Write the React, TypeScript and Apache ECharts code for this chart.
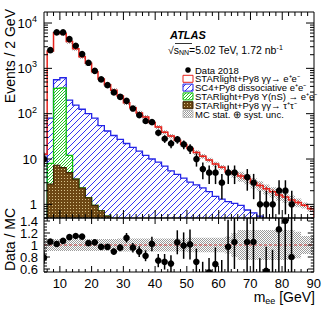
import React, { useEffect, useRef } from "react";
import * as echarts from "echarts";

// ---------------- data ----------------
const binCenters = [5, 7, 9, 11, 13, 15, 17, 19, 21, 23, 25, 27, 29, 31, 33, 35, 37, 39, 41, 43, 45, 47, 49, 51, 53, 55, 57, 59, 61, 63, 65, 67, 69, 71, 73, 75, 77, 79, 81, 83, 85, 87, 89];
const dataCounts = [10, 2520, 6230, 6230, 4430, 3150, 2065, 1327, 883, 570, 426, 295, 234, 192, 130, 93, 69, 65, 38, 28, 22, 27, 21, 17, 10, 6, 5, 5, 3, 5, 5, 0, 4, 3, 1, 1, 1, 2, 2, 1, 0, 0, 0];
const dataErr = [3.2, 50, 79, 79, 67, 56, 45, 36, 30, 24, 21, 17, 15, 14, 11, 9.6, 8.3, 8.1, 6.2, 5.3, 4.7, 5.2, 4.6, 4.1, 3.2, 2.4, 2.2, 2.2, 1.7, 2.2, 2.2, 0, 2, 1.7, 1, 1, 1, 1.4, 1.4, 1, 0, 0, 0];
// MC components (stacked bottom -> top)
const tauTau = [0, 2.8, 7.3, 6.5, 5.0, 3.6, 2.3, 1.4, 0.95, 0.72, 0.55, 0, 0, 0, 0, 0, 0, 0, 0, 0, 0, 0, 0, 0, 0, 0, 0, 0, 0, 0, 0, 0, 0, 0, 0, 0, 0, 0, 0, 0, 0, 0, 0];
const upsilon = [0, 5.2, 353, 364, 7, 0, 0, 0, 0, 0, 0, 0, 0, 0, 0, 0, 0, 0, 0, 0, 0, 0, 0, 0, 0, 0, 0, 0, 0, 0, 0, 0, 0, 0, 0, 0, 0, 0, 0, 0, 0, 0, 0];
const dissociative = [0, 72, 200, 250, 188, 151, 123, 99, 79, 54, 41, 33, 27, 22, 18, 15, 12, 10, 8.5, 7, 5.5, 4.6, 3.8, 3.1, 2.7, 2.3, 1.9, 1.5, 1.3, 1.15, 1.05, 0.95, 0.75, 0.65, 0.55, 0, 0, 0, 0, 0, 0, 0, 0];
const starlightEE = [12.7, 2320, 5540, 5180, 3700, 2545, 1675, 1190, 765, 525, 393, 297, 218, 153, 118, 89, 72, 54, 42.5, 32, 26.5, 21.4, 17.2, 13.9, 11.3, 9.2, 7.6, 6.3, 5.3, 4.05, 3.75, 3.25, 2.95, 2.35, 2.05, 2.2, 1.9, 1.6, 1.45, 1.25, 1.1, 0.95, 0.8];
const mcRelUnc = [0.11, 0.1, 0.1, 0.1, 0.1, 0.1, 0.1, 0.1, 0.1, 0.1, 0.1, 0.1, 0.11, 0.11, 0.11, 0.11, 0.11, 0.11, 0.11, 0.11, 0.11, 0.11, 0.11, 0.12, 0.12, 0.12, 0.12, 0.12, 0.12, 0.14, 0.2, 0.25, 0.25, 0.25, 0.25, 0.25, 0.25, 0.25, 0.25, 0.25, 0.22, 0.15, 0.15];
const ratioVals = [0.79, 1.055, 1.017, 1.07, 1.13, 1.15, 1.14, 1.03, 1.045, 0.97, 0.97, 0.89, 0.955, 1.12, 0.955, 0.89, 0.82, 1.017, 0.74, 0.72, 0.69, 1.045, 0.99, 1.01, 0.72, 0.5, 0.545, 0.68, 0.45, 0.97, 1.05, null, 1.05, 1.05, 0.4, 0.57, 0.45, 1.26, 1.4, 0.8, null, null, null];
const ratioErr = [0.1, 0.02, 0.015, 0.015, 0.02, 0.02, 0.025, 0.03, 0.035, 0.04, 0.045, 0.05, 0.06, 0.08, 0.08, 0.09, 0.09, 0.12, 0.11, 0.13, 0.14, 0.2, 0.22, 0.25, 0.22, 0.22, 0.24, 0.28, 0.3, 0.45, 0.45, 0, 0.5, 0.6, 0.38, 0.4, 0.47, 0.9, 1.0, 0.8, 0, 0, 0];
const yMajorTicks = [1, 10, 100, 1000, 10000];
const ratioMajorTicks = [0.6, 0.8, 1.0, 1.2, 1.4];
const legendLabels = ["Data 2018", "STARlight+Py8 γγ→ e⁺e⁻", "SC4+Py8 dissociative e⁺e⁻", "STARlight+Py8 Υ(nS) → e⁺e⁻", "STARlight+Py8 γγ→ τ⁺τ⁻", "MC stat. ⊕ syst. unc."];

const X_MIN = 5, X_MAX = 90;
const Y_MIN = 0.5, Y_MAX = 17500;
const R_MIN = 0.55, R_MAX = 1.45;
const BIN_HALF = (binCenters[1] - binCenters[0]) / 2;
const FONT = "'Liberation Sans', Arial, Helvetica, sans-serif";

function tile(size: number, draw: (ctx: CanvasRenderingContext2D) => void) {
  const c = document.createElement("canvas");
  c.width = size; c.height = size;
  const ctx = c.getContext("2d")!;
  draw(ctx);
  return { image: c.toDataURL(), repeat: "repeat", imageWidth: size, imageHeight: size } as any;
}
function hatch(color: string, s: number) {
  return tile(s, (ctx) => {
    ctx.fillStyle = color;
    for (let i = 0; i < s; i++) ctx.fillRect(i, s - 1 - i, 1, 1);
  });
}
function checker(c1: string, c2: string | null) {
  return tile(2, (ctx) => {
    ctx.fillStyle = c1; ctx.fillRect(0, 0, 1, 1); ctx.fillRect(1, 1, 1, 1);
    if (c2) { ctx.fillStyle = c2; ctx.fillRect(1, 0, 1, 1); ctx.fillRect(0, 1, 1, 1); }
  });
}
function brownTile() {
  return tile(3, (ctx) => {
    ctx.fillStyle = "#6e4814"; ctx.fillRect(0, 0, 3, 3);
    ctx.fillStyle = "#d9c48c"; ctx.fillRect(1, 1, 1, 1);
  });
}

function buildOption() {
  const n = binCenters.length;
  const cTau = tauTau.slice();
  const cUps = cTau.map((v, i) => v + upsilon[i]);
  const cDiss = cUps.map((v, i) => v + dissociative[i]);
  const cTot = cDiss.map((v, i) => v + starlightEE[i]);

  const blueFill = hatch("#3535f0", 6);
  const greenFill = hatch("#1ec81e", 3);
  const brownFill = brownTile();
  const greyFill = checker("#9a9a9a", null);

  const BASE = Y_MIN * 0.3;

  const renderStack = (params: any, api: any) => {
    const P = (x: number, v: number) => api.coord([x, v > 0 ? v : BASE]);
    const children: any[] = [];
    const region = (bot: number[], top: number[], fill: any) => {
      let run: number[] = [];
      const flush = () => {
        if (!run.length) return;
        const pts: number[][] = [];
        for (const i of run) { pts.push(P(binCenters[i] - BIN_HALF, top[i])); pts.push(P(binCenters[i] + BIN_HALF, top[i])); }
        for (let k = run.length - 1; k >= 0; k--) { const i = run[k]; pts.push(P(binCenters[i] + BIN_HALF, bot[i])); pts.push(P(binCenters[i] - BIN_HALF, bot[i])); }
        children.push({ type: "polygon", shape: { points: pts }, style: { fill, stroke: null } });
        run = [];
      };
      for (let i = 0; i < n; i++) { if (top[i] > bot[i] && top[i] > 0) run.push(i); else flush(); }
      flush();
    };
    const outline = (c: number[], stroke: string, w: number) => {
      let first = -1, last = -1;
      for (let i = 0; i < n; i++) if (c[i] > 0) { if (first < 0) first = i; last = i; }
      if (first < 0) return;
      const pts: number[][] = [P(binCenters[first] - BIN_HALF, 0)];
      for (let i = first; i <= last; i++) { pts.push(P(binCenters[i] - BIN_HALF, c[i])); pts.push(P(binCenters[i] + BIN_HALF, c[i])); }
      pts.push(P(binCenters[last] + BIN_HALF, 0));
      children.push({ type: "polyline", shape: { points: pts }, style: { stroke, lineWidth: w, fill: null } });
    };
    region(cUps, cDiss, blueFill);
    outline(cDiss, "#2424e6", 1.3);
    region(cTau, cUps, greenFill);
    outline(cUps, "#10c010", 1.3);
    region(cTau.map(() => 0), cTau, brownFill);
    outline(cTau, "#3c2404", 1.1);
    region(cTot.map((v, i) => v * (1 - mcRelUnc[i])), cTot.map((v, i) => v * (1 + mcRelUnc[i])), greyFill);
    outline(cTot, "#e8231c", 1.5);
    for (let i = 0; i < n; i++) {
      if (!(cTot[i] > 0)) continue;
      const a = P(binCenters[i], cTot[i] * (1 - mcRelUnc[i] * 0.5));
      const b = P(binCenters[i], cTot[i] * (1 + mcRelUnc[i] * 0.5));
      children.push({ type: "line", shape: { x1: a[0], y1: a[1], x2: b[0], y2: b[1] }, style: { stroke: "#e8231c", lineWidth: 1.2 } });
    }
    return { type: "group", children };
  };

  const renderDataPoint = (params: any, api: any) => {
    const x = api.value(0), v = api.value(1), e = api.value(2);
    if (!(v > 0)) return null;
    const c = api.coord([x, v]);
    const lo = api.coord([x, v - e > 0 ? v - e : BASE]);
    const hi = api.coord([x, v + e]);
    return {
      type: "group",
      children: [
        { type: "line", shape: { x1: c[0], y1: lo[1], x2: c[0], y2: hi[1] }, style: { stroke: "#000", lineWidth: 1.5 } },
        { type: "circle", shape: { cx: c[0], cy: c[1], r: 3.3 }, style: { fill: "#000" } },
      ],
    };
  };

  const makeTicks = (yMin: number, yMax: number, yMajors: number[], yMinors: number[], majLen: number, minLen: number) =>
    (params: any, api: any) => {
      const ch: any[] = [];
      const l = api.coord([X_MIN, yMin])[0], r = api.coord([X_MAX, yMin])[0];
      const b = api.coord([X_MIN, yMin])[1], t = api.coord([X_MIN, yMax])[1];
      const L = (x1: number, y1: number, x2: number, y2: number) => ch.push({ type: "line", shape: { x1, y1, x2, y2 }, style: { stroke: "#000", lineWidth: 1 } });
      for (const v of yMajors) { const y = api.coord([X_MIN, v])[1]; L(l, y, l + majLen, y); L(r, y, r - majLen, y); }
      for (const v of yMinors) { const y = api.coord([X_MIN, v])[1]; L(l, y, l + minLen, y); L(r, y, r - minLen, y); }
      for (let x = 6; x < X_MAX; x += 2) {
        const px = api.coord([x, yMin])[0];
        const len = x % 10 === 0 ? majLen : minLen;
        L(px, b, px, b - len); L(px, t, px, t + len);
      }
      ch.push({ type: "rect", shape: { x: l, y: t, width: r - l, height: b - t }, style: { fill: null, stroke: "#000", lineWidth: 1 } });
      return { type: "group", children: ch };
    };

  const logMinors: number[] = [];
  for (let e = -1; e <= 4; e++) for (let k = 2; k <= 9; k++) { const v = k * Math.pow(10, e); if (v > Y_MIN && v < Y_MAX) logMinors.push(v); }
  const ratioMinors: number[] = [];
  for (let k = 11; k <= 29; k++) { const v = k * 0.05; if (!ratioMajorTicks.some((m) => Math.abs(m - v) < 1e-6)) ratioMinors.push(v); }

  const renderRatioBand = (params: any, api: any) => {
    const pts: number[][] = [];
    for (let i = 0; i < n; i++) { pts.push(api.coord([binCenters[i] - BIN_HALF, 1 + mcRelUnc[i]])); pts.push(api.coord([binCenters[i] + BIN_HALF, 1 + mcRelUnc[i]])); }
    for (let i = n - 1; i >= 0; i--) { pts.push(api.coord([binCenters[i] + BIN_HALF, 1 - mcRelUnc[i]])); pts.push(api.coord([binCenters[i] - BIN_HALF, 1 - mcRelUnc[i]])); }
    const a = api.coord([X_MIN, 1]), b = api.coord([X_MAX, 1]);
    return {
      type: "group",
      children: [
        { type: "polygon", shape: { points: pts }, style: { fill: greyFill, stroke: null } },
        { type: "line", shape: { x1: a[0], y1: a[1], x2: b[0], y2: b[1] }, style: { stroke: "#d04040", lineWidth: 1, lineDash: [3, 2] } },
      ],
    };
  };

  const renderRatioPoint = (params: any, api: any) => {
    const x = api.value(0), v = api.value(1), e = api.value(2);
    if (v == null || isNaN(v)) return null;
    const c = api.coord([x, v]);
    const lo = api.coord([x, v - e]);
    const hi = api.coord([x, v + e]);
    return {
      type: "group",
      children: [
        { type: "line", shape: { x1: c[0], y1: lo[1], x2: c[0], y2: hi[1] }, style: { stroke: "#000", lineWidth: 1.5 } },
        { type: "circle", shape: { cx: c[0], cy: c[1], r: 3.3 }, style: { fill: "#000" } },
      ],
    };
  };

  const logLabel = (v: number) => {
    const lg = Math.log10(v);
    const e = Math.round(lg);
    if (Math.abs(lg - e) > 1e-6) return "";
    if (e === 0) return "1";
    if (e === 1) return "10";
    return `10{sup|${e}}`;
  };

  const rowYs = [70, 78.8, 87.6, 96.4, 105.2, 114];
  const kinds = ["dot", "red", "blue", "green", "brown", "grey"];
  const boxX = 183, boxW = 10, boxH = 7, textX = 195;
  const legendEls: any[] = [];
  legendLabels.forEach((label, k) => {
    const y = rowYs[k], kind = kinds[k];
    if (kind === "dot") legendEls.push({ type: "circle", shape: { cx: boxX + boxW / 2, cy: y, r: 2.8 }, style: { fill: "#000" } });
    else {
      const fill = kind === "red" ? "#fff" : kind === "blue" ? blueFill : kind === "green" ? greenFill : kind === "brown" ? brownFill : greyFill;
      const stroke = kind === "red" ? "#e8231c" : kind === "blue" ? "#2424e6" : kind === "green" ? "#10c010" : kind === "brown" ? "#3c2404" : "#bbbbbb";
      legendEls.push({ type: "rect", shape: { x: boxX, y: y - boxH / 2, width: boxW, height: boxH }, style: { fill, stroke, lineWidth: 1 } });
    }
    legendEls.push({ type: "text", x: textX, y, style: { text: label, font: `9.5px ${FONT}`, lineHeight: 9, fill: "#000", verticalAlign: "middle", align: "left" } });
  });

  return {
    animation: false,
    backgroundColor: "#fff",
    grid: [
      { left: 44, top: 12, width: 270, height: 206 },
      { left: 44, top: 218, width: 270, height: 54 },
    ],
    xAxis: [
      { gridIndex: 0, type: "value", min: X_MIN, max: X_MAX, interval: 5, axisLabel: { show: false }, axisTick: { show: false }, axisLine: { show: false }, splitLine: { show: false } },
      {
        gridIndex: 1, type: "value", min: X_MIN, max: X_MAX, interval: 5,
        axisLabel: { formatter: (v: number) => (v % 10 === 0 ? String(v) : ""), fontSize: 13, color: "#000", fontFamily: FONT, margin: 5, showMaxLabel: true },
        axisTick: { show: false }, axisLine: { show: false }, splitLine: { show: false },
      },
    ],
    yAxis: [
      {
        gridIndex: 0, type: "log", logBase: 10, min: Y_MIN, max: Y_MAX,
        axisLabel: {
          formatter: logLabel, fontSize: 13, color: "#000", fontFamily: FONT, margin: 7,
          rich: { sup: { fontSize: 9, fontFamily: FONT, color: "#000", verticalAlign: "top", padding: [0, 0, 8, 0] } },
        },
        axisTick: { show: false }, axisLine: { show: false }, splitLine: { show: false },
      },
      {
        gridIndex: 1, type: "value", min: R_MIN, max: R_MAX, interval: 0.05,
        axisLabel: {
          formatter: (v: number) => { const r = Math.round(v * 100) / 100; return Math.abs(r * 5 - Math.round(r * 5)) < 1e-6 ? String(r) : ""; },
          fontSize: 13, color: "#000", fontFamily: FONT, margin: 6, showMinLabel: false, showMaxLabel: false,
        },
        axisTick: { show: false }, axisLine: { show: false }, splitLine: { show: false },
      },
    ],
    series: [
      { type: "custom", xAxisIndex: 0, yAxisIndex: 0, clip: true, data: [[X_MIN, 1]], renderItem: renderStack, z: 2 },
      { type: "custom", xAxisIndex: 0, yAxisIndex: 0, clip: true, data: binCenters.map((x, i) => [x, dataCounts[i], dataErr[i]]), renderItem: renderDataPoint, z: 3 },
      { type: "custom", xAxisIndex: 0, yAxisIndex: 0, clip: false, data: [[X_MIN, 1]], renderItem: makeTicks(Y_MIN, Y_MAX, yMajorTicks, logMinors, 8, 4), z: 5 },
      { type: "custom", xAxisIndex: 1, yAxisIndex: 1, clip: true, data: [[X_MIN, 1]], renderItem: renderRatioBand, z: 2 },
      { type: "custom", xAxisIndex: 1, yAxisIndex: 1, clip: true, data: binCenters.map((x, i) => [x, ratioVals[i] == null ? NaN : ratioVals[i], ratioErr[i]]), renderItem: renderRatioPoint, z: 3 },
      { type: "custom", xAxisIndex: 1, yAxisIndex: 1, clip: false, data: [[X_MIN, 1]], renderItem: makeTicks(R_MIN, R_MAX, ratioMajorTicks, ratioMinors, 6, 3), z: 5 },
    ],
    graphic: [
      { type: "text", x: 10, y: 9, rotation: Math.PI / 2, style: { text: "Events / 2 GeV", font: `14px ${FONT}`, fill: "#000", align: "right", verticalAlign: "middle" } },
      { type: "text", x: 10, y: 208, rotation: Math.PI / 2, style: { text: "Data / MC", font: `14px ${FONT}`, fill: "#000", align: "right", verticalAlign: "middle" } },
      {
        type: "text", x: 315, y: 297,
        style: {
          text: "{m|m}{s|ee}{m| [GeV]}", align: "right", verticalAlign: "middle", fill: "#000",
          rich: { m: { fontSize: 14, fontFamily: FONT, fill: "#000" }, s: { fontSize: 9, fontFamily: FONT, fill: "#000", verticalAlign: "bottom", padding: [7, 0, 0, 0] } },
        },
      },
      { type: "text", x: 170, y: 35, style: { text: "ATLAS", font: `italic bold 11px ${FONT}`, fill: "#000", verticalAlign: "middle" } },
      { type: "line", shape: { x1: 175, y1: 43.5, x2: 192, y2: 43.5 }, style: { stroke: "#000", lineWidth: 0.8 } },
      {
        type: "text", x: 168, y: 50,
        style: {
          text: "{t|√}{t|s}{b|NN}{t|=5.02 TeV, 1.72 nb}{p|-1}", verticalAlign: "middle", fill: "#000",
          rich: { t: { fontSize: 10.5, fontFamily: FONT, fill: "#000" }, b: { fontSize: 7, fontFamily: FONT, fill: "#000", padding: [5, 0, 0, 0] }, p: { fontSize: 7, fontFamily: FONT, fill: "#000", padding: [0, 0, 6, 0] } },
        },
      },
      ...legendEls,
    ],
  };
}

export default function App() {
  const ref = useRef<HTMLDivElement>(null);
  useEffect(() => {
    document.body.style.margin = "0";
    const chart = echarts.init(ref.current!, null, { renderer: "svg" });
    chart.setOption(buildOption() as any);
    return () => chart.dispose();
  }, []);
  return <div ref={ref} style={{ width: 324, height: 311 }} />;
}
